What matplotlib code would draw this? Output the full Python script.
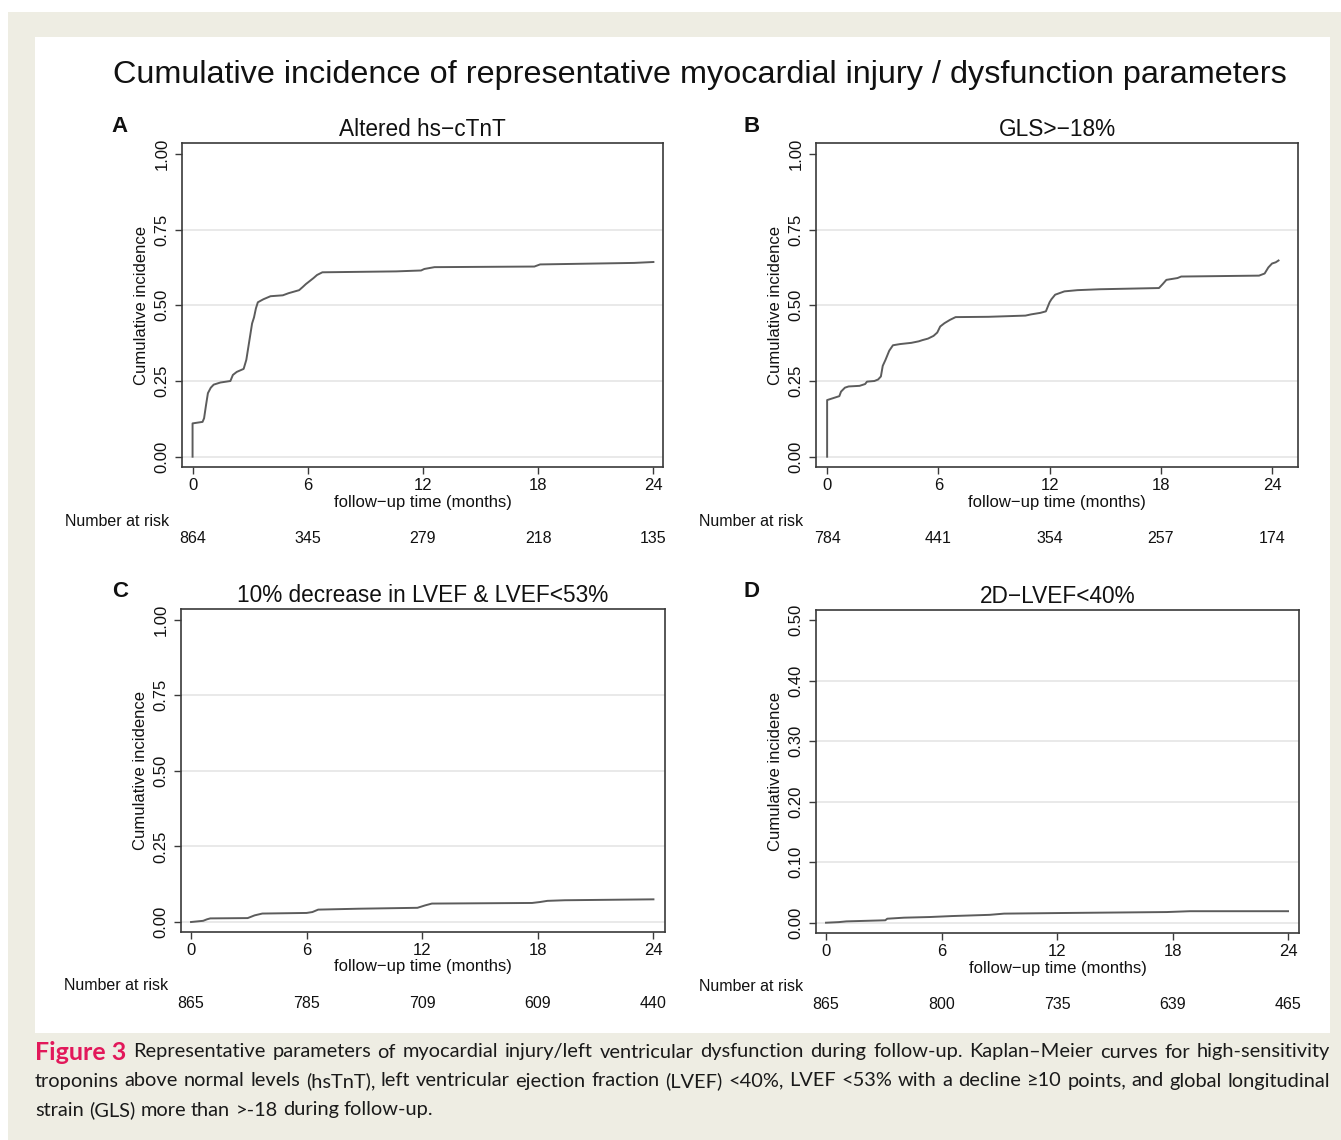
import matplotlib
matplotlib.use("Agg")
import matplotlib.pyplot as plt
import matplotlib.transforms as mtransforms
from matplotlib import font_manager
from matplotlib.patches import Rectangle
from matplotlib.ticker import FormatStrFormatter

# Kaplan-Meier curves (months, cumulative incidence)
a_t = [0, 0, 0.52, 0.6, 0.7, 0.8, 0.95, 1.1, 1.45, 1.97, 2.1, 2.3, 2.66, 2.8, 2.9, 3.0,
       3.1, 3.2, 3.3, 3.4, 3.69, 4.06, 4.7, 5.0, 5.55, 5.73, 5.9, 6.1, 6.3, 6.48, 6.76,
       10.6, 11.9, 12.07, 12.6, 17.8, 18.1, 23.0, 24.0]
a_y = [0, 0.11, 0.115, 0.127, 0.17, 0.21, 0.228, 0.238, 0.245, 0.25, 0.27, 0.28, 0.29,
       0.32, 0.36, 0.40, 0.44, 0.46, 0.49, 0.51, 0.52, 0.53, 0.533, 0.54, 0.55, 0.56, 0.57,
       0.58, 0.59, 0.60, 0.609, 0.612, 0.615, 0.62, 0.626, 0.628, 0.635, 0.64, 0.643]

b_t = [0, 0, 0.66, 0.75, 0.96, 1.16, 1.75, 2.05, 2.15, 2.55, 2.75, 2.9, 3.0, 3.15, 3.25,
       3.35, 3.55, 3.94, 4.54, 4.94, 5.14, 5.44, 5.74, 5.94, 6.1, 6.33, 6.63, 6.93, 8.7,
       10.7, 11.0, 11.5, 11.8, 12.0, 12.1, 12.3, 12.8, 13.5, 14.7, 17.9, 18.1, 18.3, 18.9,
       19.1, 23.3, 23.6, 23.8, 24.0, 24.2, 24.35]
b_y = [0, 0.187, 0.20, 0.215, 0.228, 0.232, 0.234, 0.24, 0.248, 0.25, 0.255, 0.265, 0.30,
       0.32, 0.335, 0.35, 0.368, 0.372, 0.376, 0.381, 0.385, 0.39, 0.399, 0.41, 0.43, 0.441,
       0.452, 0.461, 0.462, 0.466, 0.47, 0.475, 0.48, 0.51, 0.52, 0.535, 0.546, 0.55, 0.553,
       0.557, 0.57, 0.584, 0.59, 0.595, 0.598, 0.605, 0.625, 0.638, 0.642, 0.648]

c_t = [0, 0.63, 0.83, 1.0, 2.94, 3.3, 3.7, 6.0, 6.3, 6.6, 8.7, 11.75, 12.15, 12.5, 17.7,
       18.1, 18.5, 19.4, 24.0]
c_y = [0, 0.004, 0.009, 0.012, 0.013, 0.022, 0.028, 0.03, 0.033, 0.041, 0.044, 0.047,
       0.055, 0.061, 0.063, 0.066, 0.07, 0.072, 0.075]

d_t = [0, 0.67, 1.06, 3.08, 3.18, 4.05, 5.4, 6.55, 8.5, 9.25, 12.2, 17.7, 18.9, 24.0]
d_y = [0, 0.001, 0.0022, 0.004, 0.0066, 0.0083, 0.0094, 0.011, 0.013, 0.015, 0.016,
       0.0176, 0.019, 0.019]

months = [0, 6, 12, 18, 24]
risk_a = [864, 345, 279, 218, 135]
risk_b = [784, 441, 354, 257, 174]
risk_c = [865, 785, 709, 609, 440]
risk_d = [865, 800, 735, 639, 465]

letters = ["A", "B", "C", "D"]
titles = ["Altered hs\u2212cTnT", "GLS>\u221218%",
          "10% decrease in LVEF & LVEF<53%", "2D\u2212LVEF<40%"]
yticks_main = [0, 0.25, 0.5, 0.75, 1.0]
yticks_d = [0, 0.1, 0.2, 0.3, 0.4, 0.5]

caption = [
    "Representative parameters of myocardial injury/left ventricular dysfunction during "
    "follow-up. Kaplan\u2013Meier curves for high-sensitivity",
    "troponins above normal levels (hsTnT), left ventricular ejection fraction (LVEF) <40%, "
    "LVEF <53% with a decline \u226510 points, and global longitudinal",
    "strain (GLS) more than >-18 during follow-up.",
]

W, H = 1341, 1140
BEIGE = "#eeede3"
LINE = "#5c5c5c"
FRAME = "#3a3a3a"
GRID = "#e3e3e3"

names = {f.name for f in font_manager.fontManager.ttflist}
main_font = "Liberation Sans" if "Liberation Sans" in names else "DejaVu Sans"
cap_font = "Lato" if "Lato" in names else main_font
plt.rcParams["font.family"] = [main_font, "DejaVu Sans"]

fig = plt.figure(figsize=(W / 100, H / 100), dpi=100, facecolor=BEIGE)

# white strips at the very edge and the white figure panel (behind the axes)
for rx, ry, rw, rh in [(0, H - 12, W, 12), (0, 0, 8, H), (35, H - 1033, 1295, 996)]:
    fig.patches.append(Rectangle((rx / W, ry / H), rw / W, rh / H,
                                 transform=fig.transFigure, facecolor="white",
                                 edgecolor="none", zorder=-5))


def px_rect(left, top, right, bottom):
    return [left / W, 1 - bottom / H, (right - left) / W, (bottom - top) / H]


panels = [
    (px_rect(182, 143, 663, 467), a_t, a_y, risk_a, (-0.55, 24.5), (-0.034, 1.036), yticks_main),
    (px_rect(816, 143, 1298, 467), b_t, b_y, risk_b, (-0.6, 25.4), (-0.034, 1.036), yticks_main),
    (px_rect(181, 609, 665, 932), c_t, c_y, risk_c, (-0.52, 24.6), (-0.033, 1.035), yticks_main),
    (px_rect(816, 610, 1299, 933), d_t, d_y, risk_d, (-0.52, 24.57), (-0.017, 0.5165), yticks_d),
]
letter_pos = [(120, 127), (752, 127), (120, 592), (752, 592)]

for i, (rect, t, y, risk, xl, yl, yt) in enumerate(panels):
    ax = fig.add_axes(rect)
    ax.set_facecolor("white")
    # the many small steps blur into a smooth curve at this size
    ax.plot(t, y, color=LINE, lw=1.4, zorder=3, solid_joinstyle="round")
    ax.set_xlim(*xl)
    ax.set_ylim(*yl)
    ax.set_xticks(months)
    ax.set_yticks(yt)
    ax.yaxis.set_major_formatter(FormatStrFormatter("%.2f"))
    # Stata leaves out the grid line at the top tick
    for g in yt[:-1]:
        ax.axhline(g, color=GRID, lw=1.1, zorder=1)
    for s in ax.spines.values():
        s.set_color(FRAME)
        s.set_linewidth(1.2)
    ax.tick_params(axis="both", direction="out", length=5, width=1, color=FRAME,
                   labelsize=12, labelcolor="#111111")
    ax.tick_params(axis="x", pad=3)
    ax.tick_params(axis="y", pad=4, labelrotation=90)
    for lab in ax.get_yticklabels():
        lab.set_va("center")
    ax.set_xlabel("follow\u2212up time (months)", fontsize=12, labelpad=1, color="#111111")
    ax.set_ylabel("Cumulative incidence", fontsize=12, labelpad=4, color="#111111")
    ax.set_title(titles[i], fontsize=16.3, pad=5, color="#111111")

    tr = mtransforms.blended_transform_factory(ax.transData, ax.transAxes)
    ax.text(-0.027, -0.167, "Number at risk", transform=ax.transAxes, ha="right",
            va="center", fontsize=11.5, color="#111111")
    for m, n in zip(months, risk):
        ax.text(m, -0.222, str(n), transform=tr, ha="center", va="center",
                fontsize=11.5, color="#111111")

    lx, ly = letter_pos[i]
    fig.text(lx / W, 1 - ly / H, letters[i], fontsize=16, fontweight="bold",
             ha="center", va="center", color="#111111")

fig.text(700 / W, 1 - 75 / H,
         "Cumulative incidence of representative myocardial injury / dysfunction parameters",
         fontsize=23.3, ha="center", va="center", color="#111111")

# caption, justified like the journal layout
renderer = fig.canvas.get_renderer()
cap_x0, cap_x1 = 35, 1330
cap_y = [1052, 1081, 1110]
cap_fs = 13
BOLD_SCALE = 1.25


def token_width(txt, fs, bold=False):
    tt = fig.text(0, 0, txt, fontsize=fs, family=cap_font,
                  fontweight="bold" if bold else "normal")
    w = tt.get_window_extent(renderer).width
    tt.remove()
    return w


space_w = token_width("a a", cap_fs) - token_width("aa", cap_fs)
lines = []
for k, line in enumerate(caption):
    toks = [(w, False) for w in line.split(" ")]
    if k == 0:
        toks = [("Figure 3", True)] + toks
    lines.append(toks)

# pick the font size so the longest justified line just fits
natural = []
for toks in lines[:2]:
    ws = [token_width(w, cap_fs * (BOLD_SCALE if b else 1.0), b) for w, b in toks]
    natural.append(sum(ws) + space_w * (len(ws) - 1))
scale = min((cap_x1 - cap_x0) * 0.99 / n for n in natural)
cap_fs *= scale
space_w *= scale

for k, toks in enumerate(lines):
    ws = [token_width(w, cap_fs * (BOLD_SCALE if b else 1.0), b) for w, b in toks]
    if k < 2:
        gap = ((cap_x1 - cap_x0) - sum(ws)) / (len(ws) - 1)
    else:
        gap = space_w
    x = cap_x0
    for (w, b), wd in zip(toks, ws):
        fig.text(x / W, 1 - cap_y[k] / H, w, fontsize=cap_fs * (BOLD_SCALE if b else 1.0),
                 family=cap_font, fontweight="bold" if b else "normal",
                 color="#e2185a" if b else "#1a1a1a", ha="left", va="center")
        x += wd + gap

fig.savefig("out.png", dpi=100, facecolor=BEIGE)
